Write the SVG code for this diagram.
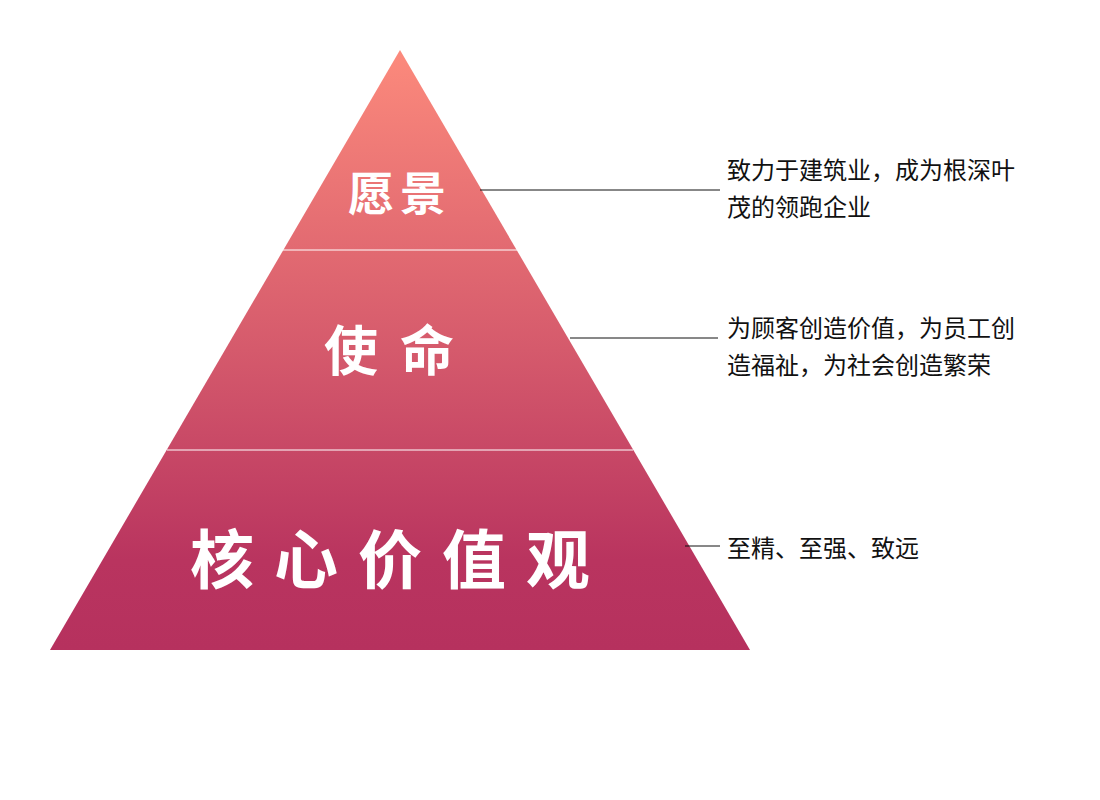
<svg xmlns="http://www.w3.org/2000/svg" width="1100" height="800" viewBox="0 0 1100 800">
<style>
.t{font-family:"Noto Sans CJK SC",sans-serif;font-weight:bold;fill:#fff;text-anchor:middle}
.d{font-family:"Noto Sans CJK SC",sans-serif;font-size:24px;fill:#111}
.c{stroke:#111;stroke-width:1;fill:none}
</style>
<defs>
<linearGradient id="g" x1="0" y1="50" x2="0" y2="650" gradientUnits="userSpaceOnUse">
<stop offset="0" stop-color="#fc8a7c"/>
<stop offset="0.5" stop-color="#d55a6c"/>
<stop offset="0.85" stop-color="#b9345f"/>
<stop offset="1" stop-color="#b6315e"/>
</linearGradient>
</defs>
<rect width="1100" height="800" fill="#fff"/>
<g id="pyramid">
<polygon points="400,50 750,650 50,650" fill="url(#g)"/>
<line x1="283" y1="250" x2="517" y2="250" stroke="#fff" stroke-width="1"/>
<line x1="167" y1="450" x2="633" y2="450" stroke="#fff" stroke-width="1"/>
</g>
<g id="vision"><text class="t" x="400" y="210" font-size="46" letter-spacing="6">愿景</text></g>
<g id="mission"><text class="t" x="400" y="371" font-size="54" letter-spacing="22">使命</text></g>
<g id="values"><text class="t" x="400" y="583" font-size="64" letter-spacing="20">核心价值观</text></g>
<g id="connectors">
<line class="c" x1="480" y1="190" x2="720" y2="190"/>
<line class="c" x1="570" y1="338" x2="718" y2="338"/>
<line class="c" x1="685" y1="546" x2="720" y2="546"/>
</g>
<g id="desc1"><text class="d" x="727" y="179">致力于建筑业，成为根深叶</text><text class="d" x="727" y="216">茂的领跑企业</text></g>
<g id="desc2"><text class="d" x="727" y="337">为顾客创造价值，为员工创</text><text class="d" x="727" y="374">造福祉，为社会创造繁荣</text></g>
<g id="desc3"><text class="d" x="727" y="557">至精、至强、致远</text></g>
</svg>
